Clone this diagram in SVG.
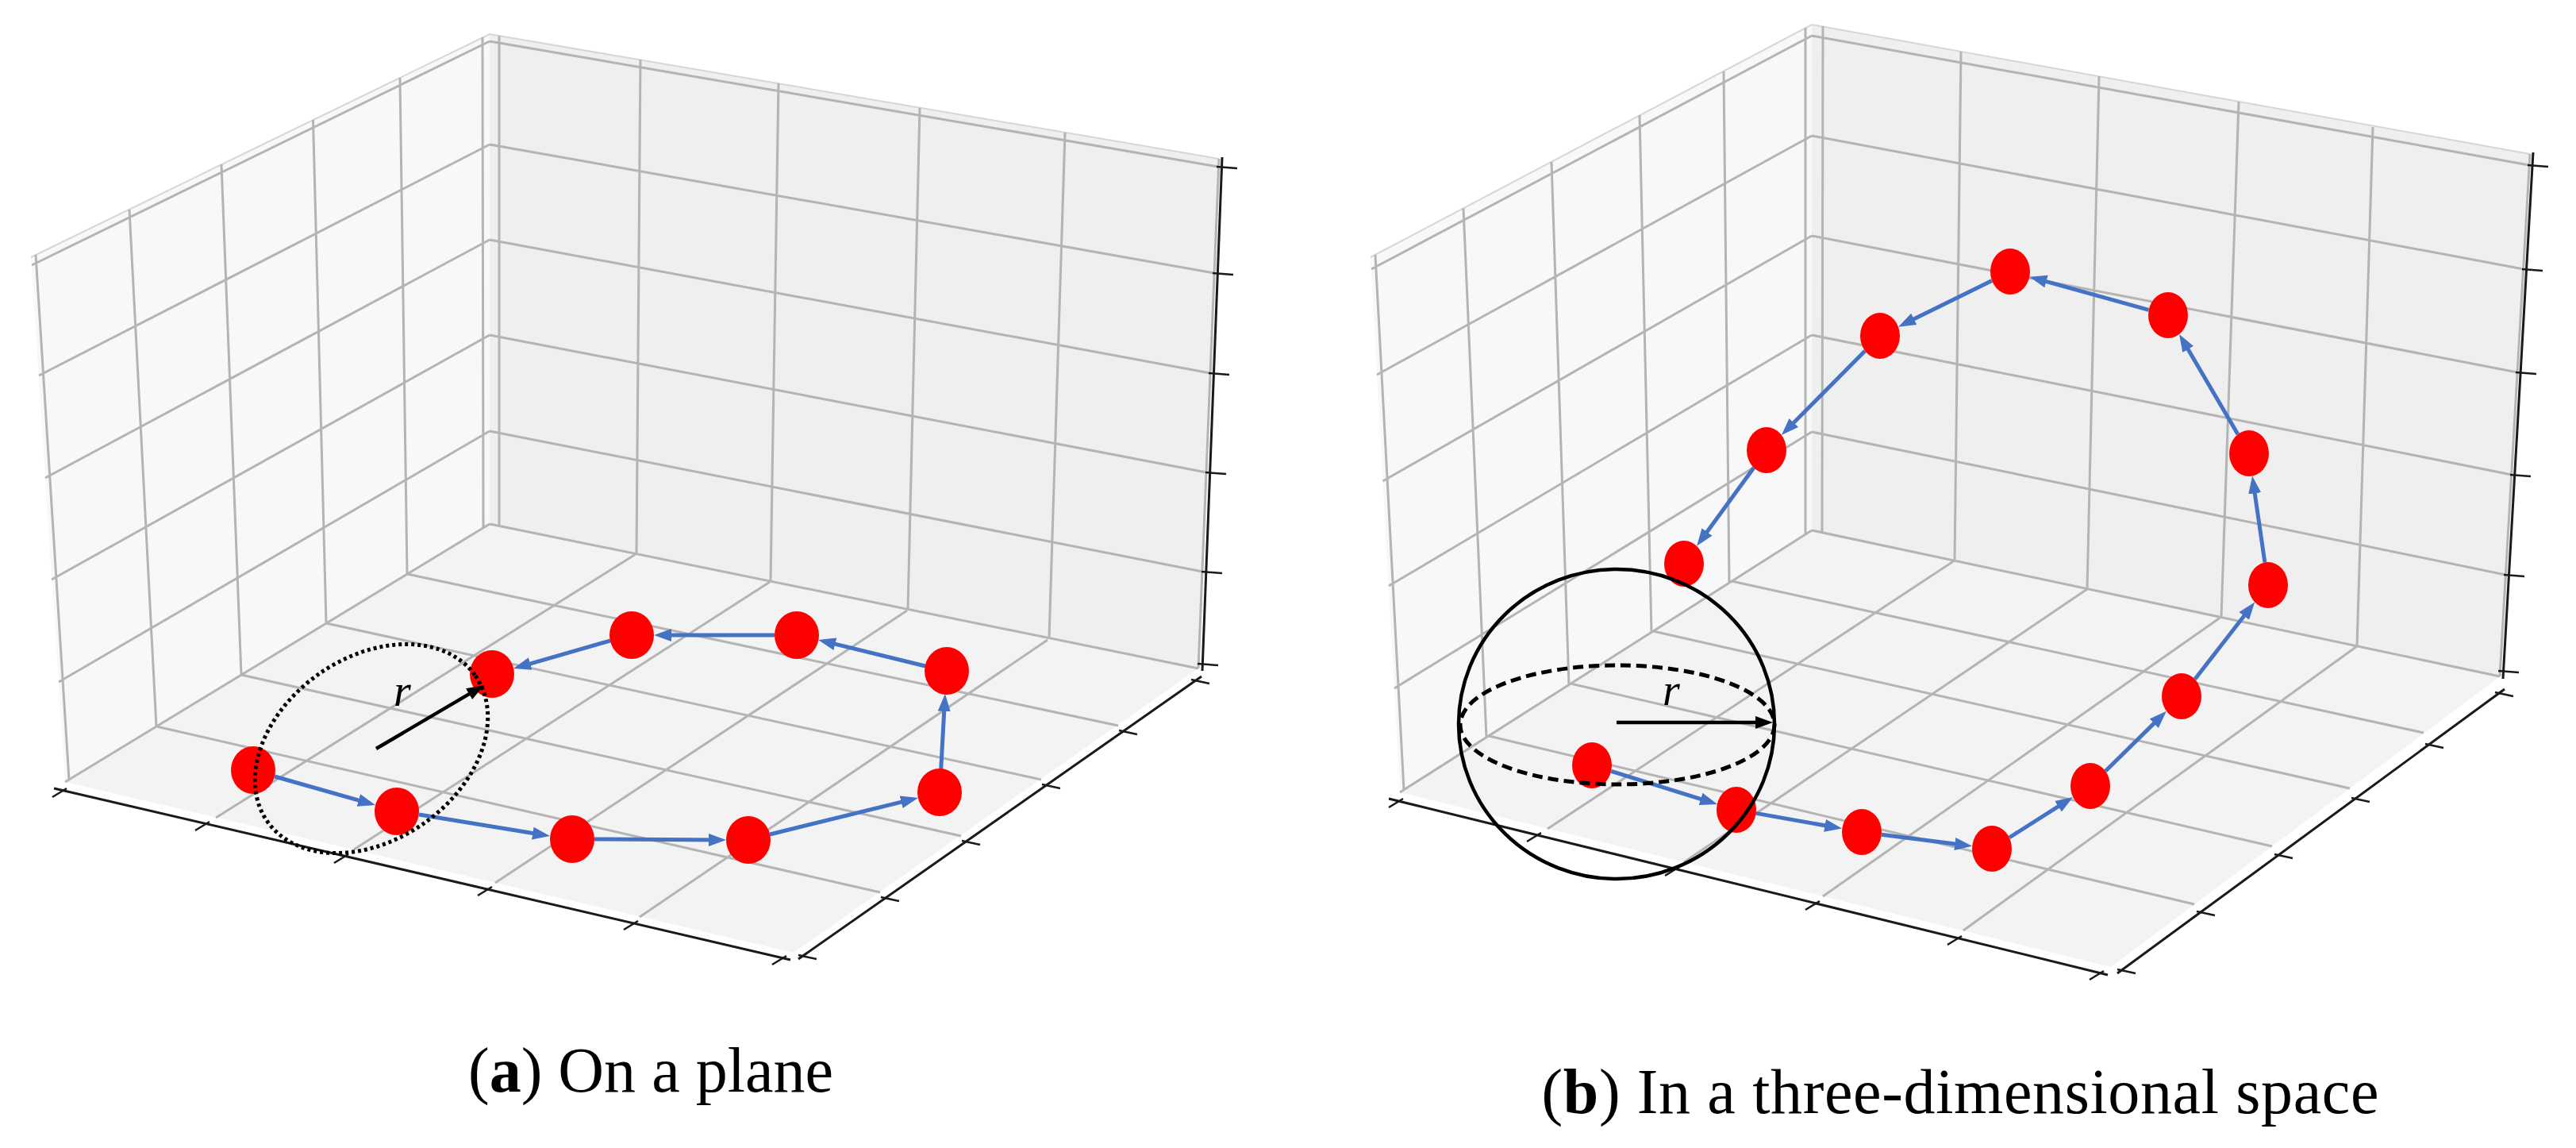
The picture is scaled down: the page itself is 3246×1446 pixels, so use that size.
<svg xmlns="http://www.w3.org/2000/svg" width="3246" height="1446" viewBox="0 0 3246 1446">
<style>
.pl{fill:#f8f8f8}
.pr{fill:#efefef}
.pf{fill:#f3f3f3}
.edgeTop{stroke:#d6d6d6;stroke-width:2;fill:none}
.g{stroke:#b4b4b4;stroke-width:3;fill:none}
.ax{stroke:#1a1a1a;stroke-width:3;fill:none}
.tk{stroke:#1a1a1a;stroke-width:2.5;fill:none}
.node{fill:#fe0000}
.edge{stroke:#4472c4;stroke-width:5;fill:none;marker-end:url(#ab)}
.blk{stroke:#000;stroke-width:4.5;fill:none;marker-end:url(#ak)}
.cap{font-family:"Liberation Serif",serif;font-size:80px;fill:#000}
.rl{font-family:"Liberation Serif",serif;font-style:italic;font-size:56px;fill:#000}
</style>
<defs>
<marker id="ab" markerUnits="userSpaceOnUse" markerWidth="24" markerHeight="18" refX="14" refY="9" orient="auto"><path d="M0,1 L22,9 L0,17 z" fill="#4472c4"/></marker>
<marker id="ak" markerUnits="userSpaceOnUse" markerWidth="24" markerHeight="18" refX="14" refY="9" orient="auto"><path d="M0,1 L22,9 L0,17 z" fill="#000"/></marker>
</defs>
<rect width="3246" height="1446" fill="#fff"/>

<!-- ===== Plot (a) axes box ===== -->
<g id="axes-a">
<polygon class="pl" points="39,324 617,43 617,660 82,985"/>
<polygon class="pr" points="617,43 1536,200 1510,842 617,660"/>
<polygon class="pf" points="617,660 1510,842 1000,1200 82,985"/>
<path class="edgeTop" d="M39,324 L617,43 L1536,200"/>
<path class="g" d="M45,321 L87,982 M163,264 L197,915 M279,207 L304,850 M394.5,151 L411,785 M504,98 L513,723 M608,47 L609,665
M74,859 L617,543 M65,730 L617,422 M57,602 L617,302 M49,473 L617,182 M40,334 L617,52 M82,985 L617,660"/>
<path class="g" d="M629,45 L629,662 M807,75 L802,698 M981,105 L971,732 M1159,136 L1144,767 M1342,167 L1322,804 M1536,200 L1510,842
M617,543 L1515,720 M617,422 L1520,595 M617,302 L1525,470 M617,182 L1530,344 M617,52 L1535,210 M617,660 L1510,842"/>
<path class="g" d="M513,723 L1409,914 M411,785 L1312,982 M304,850 L1211,1053 M197,915 L1109,1124
M801,698 L272,1030 M970,733 L446,1070 M1143,769 L624,1112 M1320,806 L806,1155"/>
<path class="ax" d="M68,993 L996,1209 M1006,1208 L1514,852 M1540,198 L1515,845"/>
<path class="tk" d="M84,993 L66,1004 M264,1035 L246,1046 M439,1076 L421,1087 M620,1117 L602,1128 M804,1160 L786,1171 M991,1204 L973,1215
M1006,1203 L1029,1208 M1110,1130 L1133,1135 M1212,1059 L1235,1064 M1313,988 L1336,993 M1410,920 L1433,925 M1501,856 L1524,861
M1509,836 L1535,838 M1514,720 L1540,722 M1519,595 L1545,597 M1523,470 L1549,472 M1528,344 L1554,346 M1533,210 L1559,212"/>
</g>

<!-- ===== Plot (b) axes box ===== -->
<g id="axes-b">
<polygon class="pl" points="1727,324 2283,31 2283,668 1764,998"/>
<polygon class="pr" points="2283,31 3188,194 3150,852 2283,668"/>
<polygon class="pf" points="2283,668 3150,852 2660,1218 1764,998"/>
<path class="edgeTop" d="M1727,324 L2283,31 L3188,194"/>
<path class="g" d="M1733,321 L1769,995 M1844,262.5 L1873,929 M1955,204 L1977,863 M2066,145 L2081,797 M2172,90 L2179,734 M2275,35 L2275,673
M1757,867 L2283,544 M1750,738 L2283,422 M1742.5,606 L2283,297 M1735,472 L2283,171 M1728,339 L2283,45 M1764,998 L2283,668"/>
<path class="g" d="M2297,33 L2296,671 M2471,65 L2463,706 M2645,96 L2630,742 M2821,128 L2799,777 M2990,160 L2970,814 M3188,194 L3150,852
M2283,544 L3157,724 M2283,422 L3165,598 M2283,297 L3172,469 M2283,171 L3180,339 M2283,45 L3187,208 M2283,668 L3150,852"/>
<path class="g" d="M2182,732 L3054,923 M2083,795 L2961,993 M1979,861 L2863,1066 M1876,927 L2765,1139
M2463,706 L1950,1044 M2630,742 L2122,1086 M2799,777 L2297,1129 M2970,814 L2474,1172"/>
<path class="ax" d="M1750,1006 L2656,1228 M2668,1226 L3156,868 M3192,192 L3154,855"/>
<path class="tk" d="M1768,1006 L1750,1017 M1942,1049 L1924,1060 M2116,1092 L2098,1103 M2293,1135 L2275,1146 M2472,1179 L2454,1190 M2651,1223 L2633,1234
M2668,1221 L2691,1226 M2768,1148 L2791,1153 M2866,1076 L2889,1081 M2963,1005 L2986,1010 M3056,937 L3079,942 M3144,872 L3167,877
M3148,845 L3174,847 M3155,724 L3181,726 M3163,598 L3189,600 M3170,469 L3196,471 M3178,339 L3204,341 M3185,208 L3211,210"/>
</g>

<!-- ===== Connectors ===== -->
<g id="connectors">
<path class="edge" d="M346,978 L465.3,1011.8"/>
<path class="edge" d="M528,1026 L685.1,1051.8"/>
<path class="edge" d="M749,1057 L907,1058"/>
<path class="edge" d="M970,1051 L1149.2,1006.9"/>
<path class="edge" d="M1185.7,969 L1190.5,882"/>
<path class="edge" d="M1166,839 L1038.8,807.9"/>
<path class="edge" d="M976,800 L832,800"/>
<path class="edge" d="M769,807 L654.7,839.9"/>

<path class="edge" d="M2030.2,971.4 L2156.4,1010.6"/>
<path class="edge" d="M2212.8,1024.4 L2313.3,1042.2"/>
<path class="edge" d="M2370.9,1051.2 L2477.2,1064.8"/>
<path class="edge" d="M2531.9,1055 L2605.4,1008.3"/>
<path class="edge" d="M2653.1,971.2 L2724.2,901.4"/>
<path class="edge" d="M2765.8,855.5 L2836.3,764.8"/>
<path class="edge" d="M2853.9,708.4 L2839.2,607.5"/>
<path class="edge" d="M2819.9,547 L2750.1,427.9"/>
<path class="edge" d="M2707.6,390.3 L2565.1,350.8"/>
<path class="edge" d="M2510,353.4 L2399.2,408.1"/>
<path class="edge" d="M2350.1,442 L2250.5,542.3"/>
<path class="edge" d="M2209.9,589.2 L2142.8,681.3"/>
</g>

<!-- ===== Nodes (a) ===== -->
<g id="a-n1"><ellipse class="node" cx="319" cy="970" rx="28" ry="30"/></g>
<g id="a-n2"><ellipse class="node" cx="500" cy="1022" rx="28" ry="30"/></g>
<g id="a-n3"><ellipse class="node" cx="721" cy="1057" rx="28" ry="30"/></g>
<g id="a-n4"><ellipse class="node" cx="943" cy="1058" rx="28" ry="30"/></g>
<g id="a-n5"><ellipse class="node" cx="1184" cy="998" rx="28" ry="30"/></g>
<g id="a-n6"><ellipse class="node" cx="1193" cy="845" rx="28" ry="30"/></g>
<g id="a-n7"><ellipse class="node" cx="1004" cy="800" rx="28" ry="30"/></g>
<g id="a-n8"><ellipse class="node" cx="796" cy="800" rx="28" ry="30"/></g>
<g id="a-n9"><ellipse class="node" cx="620" cy="849" rx="28" ry="30"/></g>

<!-- ===== Nodes (b) ===== -->
<g id="b-n1"><ellipse class="node" cx="2006" cy="964" rx="25" ry="29"/></g>
<g id="b-n2"><ellipse class="node" cx="2188" cy="1020" rx="25" ry="29"/></g>
<g id="b-n3"><ellipse class="node" cx="2346" cy="1048" rx="25" ry="29"/></g>
<g id="b-n4"><ellipse class="node" cx="2510" cy="1069" rx="25" ry="29"/></g>
<g id="b-n5"><ellipse class="node" cx="2634" cy="990" rx="25" ry="29"/></g>
<g id="b-n6"><ellipse class="node" cx="2749" cy="877" rx="25" ry="29"/></g>
<g id="b-n7"><ellipse class="node" cx="2858" cy="737" rx="25" ry="29"/></g>
<g id="b-n8"><ellipse class="node" cx="2834" cy="571" rx="25" ry="29"/></g>
<g id="b-n9"><ellipse class="node" cx="2732" cy="397" rx="25" ry="29"/></g>
<g id="b-n10"><ellipse class="node" cx="2533" cy="342" rx="25" ry="29"/></g>
<g id="b-n11"><ellipse class="node" cx="2369" cy="423" rx="25" ry="29"/></g>
<g id="b-n12"><ellipse class="node" cx="2226" cy="567" rx="25" ry="29"/></g>
<g id="b-n13"><ellipse class="node" cx="2122" cy="710" rx="25" ry="29"/></g>

<!-- ===== Radius annotations ===== -->
<g id="radius-a">
<ellipse cx="468" cy="943" rx="160" ry="115" transform="rotate(-35 468 943)" fill="none" stroke="#000" stroke-width="5" stroke-dasharray="4 4"/>
<path class="blk" d="M474,943 L603.1,867.1"/>
<text class="rl" x="507" y="889" text-anchor="middle">r</text>
</g>
<g id="radius-b">
<ellipse cx="2037" cy="912" rx="199" ry="195" fill="none" stroke="#000" stroke-width="4.5"/>
<ellipse cx="2038" cy="913" rx="198" ry="75" fill="none" stroke="#000" stroke-width="5" stroke-dasharray="13 7"/>
<path class="blk" d="M2037,910 L2226,910"/>
<text class="rl" x="2106" y="888" text-anchor="middle">r</text>
</g>

<!-- ===== Captions ===== -->
<text class="cap" x="820" y="1375" text-anchor="middle" textLength="460" lengthAdjust="spacing">(<tspan font-weight="bold">a</tspan>) On a plane</text>
<text class="cap" x="2470" y="1402" text-anchor="middle" textLength="1055" lengthAdjust="spacing">(<tspan font-weight="bold">b</tspan>) In a three-dimensional space</text>
</svg>
